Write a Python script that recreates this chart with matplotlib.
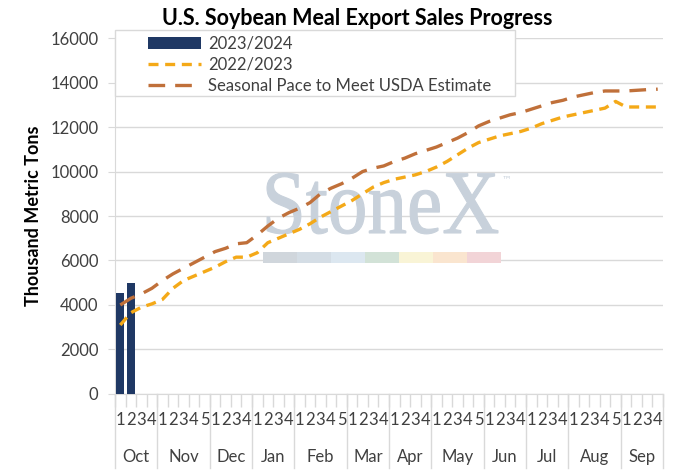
import matplotlib
matplotlib.use('Agg')
from matplotlib import pyplot as plt
from matplotlib import transforms
from matplotlib.patches import Rectangle, PathPatch
from matplotlib.textpath import TextPath
from matplotlib.font_manager import FontProperties
import numpy as np

# months and weeks per month for the marketing year
months = ['Oct', 'Nov', 'Dec', 'Jan', 'Feb', 'Mar', 'Apr', 'May', 'Jun', 'Jul', 'Aug', 'Sep']
weeks_per_month = [4, 5, 4, 4, 5, 4, 4, 5, 4, 4, 5, 4]

# 2023/2024 sales so far (thousand metric tons)
sales_2324 = [4550, 5000]

# 2022/2023 accumulated sales by week
sales_2223 = [3100, 3650, 3900, 4050, 4250, 4750, 5100, 5300, 5500, 5700,
              5950, 6150, 6150, 6350, 6800, 7000, 7200, 7400, 7650, 7950,
              8200, 8450, 8700, 9000, 9300, 9500, 9650, 9750, 9850, 10000,
              10200, 10450, 10750, 11050, 11300, 11450, 11600, 11700, 11800, 11950,
              12150, 12300, 12450, 12550, 12650, 12750, 12850, 13150, 12900, 12900,
              12900, 12900]

# seasonal pace needed to meet the USDA estimate
seasonal_pace = [4000, 4300, 4500, 4750, 5100, 5400, 5650, 5900, 6150, 6400,
                 6550, 6750, 6800, 7150, 7550, 7900, 8150, 8350, 8600, 9000,
                 9250, 9450, 9700, 10000, 10150, 10250, 10450, 10600, 10800, 10950,
                 11100, 11300, 11500, 11750, 12050, 12250, 12400, 12550, 12650, 12800,
                 12950, 13100, 13200, 13350, 13450, 13550, 13620, 13620, 13620, 13650,
                 13680, 13700]

week_labels = [str(w + 1) for n in weeks_per_month for w in range(n)]

plt.rcParams['font.family'] = ['Lato', 'DejaVu Sans']

fig = plt.figure(figsize=(6.75, 4.74), dpi=100)
ax = fig.add_axes([0.1704, 0.1688, 0.8118, 0.7510])

x = np.arange(len(week_labels))
grid_col = '#D9D9D9'
text_col = '#404040'

# gridlines
ax.set_ylim(0, 16000)
ax.set_yticks(np.arange(0, 16001, 2000))
ax.yaxis.grid(True, color=grid_col, linewidth=1)
ax.set_axisbelow(True)

# watermark: "StoneX" stretched into its box (axes fraction), plus colour band
wm = TextPath((0, 0), 'StoneX', size=1, prop=FontProperties(family='Liberation Serif'))
ext = wm.get_extents()
x0, x1 = (267 - 115) / 548, (498 - 115) / 548
y0, y1 = (394 - 233) / 356, (394 - 173) / 356
cap = TextPath((0, 0), 'S', size=1, prop=FontProperties(family='Liberation Serif')).get_extents()
tr = (transforms.Affine2D().translate(-ext.x0, 0)
      .scale((x1 - x0) / ext.width, (y1 - y0) / cap.y1)
      .translate(x0, y0) + ax.transAxes)
ax.add_patch(PathPatch(wm, transform=tr, facecolor='#C8D1DB', edgecolor='#C8D1DB',
                       linewidth=0.8, zorder=1))
ax.text((502 - 115) / 548, (394 - 182) / 356, '\u2122', transform=ax.transAxes,
        family='DejaVu Sans', fontsize=7, color='#C8D1DB', zorder=1)
band_cols = ['#D0D6DC', '#D4DDE5', '#DCE7F0', '#D2E2D7', '#F9F4D6', '#FAE5CF', '#F2D4D7']
seg_w = (501 - 263) / 7 / 548
for i, c in enumerate(band_cols):
    ax.add_patch(Rectangle(((263 - 115) / 548 + i * seg_w, (394 - 263) / 356), seg_w, 11 / 356,
                           transform=ax.transAxes, facecolor=c, edgecolor='none', zorder=1.5))

bars = ax.bar(x[:len(sales_2324)], sales_2324, width=0.72, color='#1F3864', zorder=3)
l1, = ax.plot(x, sales_2223, color='#F4A918', linewidth=2.4, dashes=(3, 2), zorder=4)
l2, = ax.plot(x, seasonal_pace, color='#C0703A', linewidth=2.4, dashes=(5, 3), zorder=4)

ax.set_xlim(-0.5, len(x) - 0.5)

# spines
for s in ['top', 'right']:
    ax.spines[s].set_visible(False)
ax.spines['left'].set_color(grid_col)
ax.spines['bottom'].set_color(grid_col)

ax.tick_params(axis='y', colors=grid_col, length=5, pad=7, labelsize=12, labelcolor=text_col)

# week boundary ticks, labels at centres
ax.set_xticks(np.arange(-0.5, len(x), 1.0))
ax.set_xticklabels([])
ax.tick_params(axis='x', which='major', colors=grid_col, length=9.5, width=1)
ax.set_xticks(x, minor=True)
ax.set_xticklabels(week_labels, minor=True)
ax.tick_params(axis='x', which='minor', length=0, pad=13, labelsize=12, labelcolor=text_col)

# month labels and separators
trans = transforms.blended_transform_factory(ax.transData, ax.transAxes)
edges = np.concatenate([[0], np.cumsum(weeks_per_month)]) - 0.5
for i, m in enumerate(months):
    ax.text((edges[i] + edges[i + 1]) / 2, -0.176, m, transform=trans,
            ha='center', va='center', fontsize=12, color=text_col)
for e in edges:
    ax.plot([e, e], [0, -0.208], transform=trans, color=grid_col, linewidth=1, clip_on=False)

ax.set_ylabel('Thousand Metric Tons', fontsize=13, fontweight='bold', color='black', labelpad=6)

# legend with its own white box
ax.add_patch(Rectangle((0, (394 - 96) / 356), 400 / 548, 66 / 356, transform=ax.transAxes,
                       facecolor='white', edgecolor=grid_col, linewidth=1, zorder=4.5,
                       clip_on=False))
leg = ax.legend([bars, l1, l2], ['2023/2024', '2022/2023', 'Seasonal Pace to Meet USDA Estimate'],
                loc='upper left', bbox_to_anchor=(0.045, 1.03), frameon=False,
                fontsize=12, handlelength=3.2, handletextpad=0.4, labelspacing=0.3,
                borderpad=0.0)
leg.set_zorder(5)
for t in leg.get_texts():
    t.set_color(text_col)

fig.text(0.53, 0.962, 'U.S. Soybean Meal Export Sales Progress', ha='center', va='center',
         fontsize=15.5, fontweight='bold', color='black')

fig.savefig('out.png', dpi=100)
